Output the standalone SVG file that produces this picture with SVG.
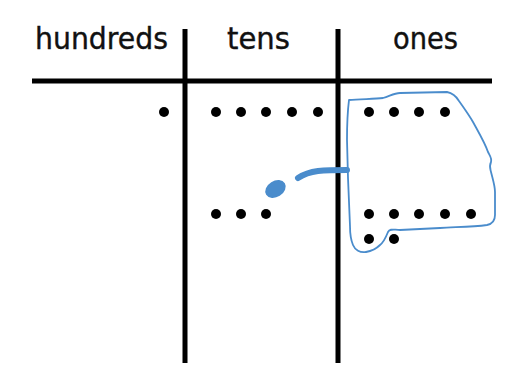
<svg xmlns="http://www.w3.org/2000/svg" width="505" height="385" viewBox="0 0 505 385">
<style>
.lbl{font-family:"Comic Sans MS","DejaVu Sans","Noto Sans",sans-serif;font-size:30px;fill:#111;stroke:#111;stroke-width:0.4}
.rule{stroke:#000;stroke-width:5;stroke-linecap:butt}
.dot{fill:#000}
.blue{stroke:#4a8ccc;fill:none;stroke-linejoin:round;stroke-linecap:round}
</style>
<rect width="505" height="385" fill="#fff"/>
<g id="headers">
<text class="lbl" x="35" y="49" textLength="133" lengthAdjust="spacingAndGlyphs">hundreds</text>
<text class="lbl" x="227" y="49" textLength="63" lengthAdjust="spacingAndGlyphs">tens</text>
<text class="lbl" x="393" y="49" textLength="65" lengthAdjust="spacingAndGlyphs">ones</text>
</g>
<g id="grid">
<line class="rule" x1="32" y1="81" x2="492" y2="81"/>
<line class="rule" x1="185" y1="29" x2="185" y2="363"/>
<line class="rule" x1="338" y1="29" x2="338" y2="363"/>
</g>
<g id="hundreds-dots">
<circle class="dot" cx="164" cy="112" r="5"/>
</g>
<g id="tens-dots">
<circle class="dot" cx="216" cy="112" r="5"/>
<circle class="dot" cx="241" cy="112" r="5"/>
<circle class="dot" cx="266" cy="112" r="5"/>
<circle class="dot" cx="292" cy="112" r="5"/>
<circle class="dot" cx="318" cy="112" r="5"/>
<circle class="dot" cx="216" cy="214" r="5"/>
<circle class="dot" cx="241" cy="214" r="5"/>
<circle class="dot" cx="266" cy="214" r="5"/>
</g>
<g id="ones-dots">
<circle class="dot" cx="369" cy="112" r="5"/>
<circle class="dot" cx="394" cy="112" r="5"/>
<circle class="dot" cx="419" cy="112" r="5"/>
<circle class="dot" cx="445" cy="112" r="5"/>
<circle class="dot" cx="369" cy="214" r="5"/>
<circle class="dot" cx="394" cy="214" r="5"/>
<circle class="dot" cx="419" cy="214" r="5"/>
<circle class="dot" cx="445" cy="214" r="5"/>
<circle class="dot" cx="471" cy="214" r="5"/>
<circle class="dot" cx="369" cy="239" r="5"/>
<circle class="dot" cx="394" cy="239" r="5"/>
</g>
<g id="annotation">
<path class="blue" stroke-width="1.8" d="M349,100 C360,99 375,99 383,98 C390,96 394,93 400,93 L447,92 C452,93 456,96 459,101 C464,108 469,115 473,122 C479,133 485,143 488,152 C490,156 492,158 491,162 C489,166 490,168 491,172 C493,180 495,186 495,192 L495,215 C495,221 492,224 487,225 C472,227 455,227 440,228 L400,230 C394,230 390,228 388,232 C386,237 384,242 380,245 C376,249 372,251 366,252 C360,253 355,250 353,245 C350,238 350,232 350,226 L348,178 L347,140 C347,120 348,108 349,100 Z"/>
<path class="blue" stroke-width="6" d="M298,178 C304,174 310,172 318,171 C328,170 338,170 347,170"/>
<ellipse cx="275.5" cy="189" rx="11" ry="8" transform="rotate(-32 275.5 189)" fill="#4a8ccc"/>
</g>
</svg>
